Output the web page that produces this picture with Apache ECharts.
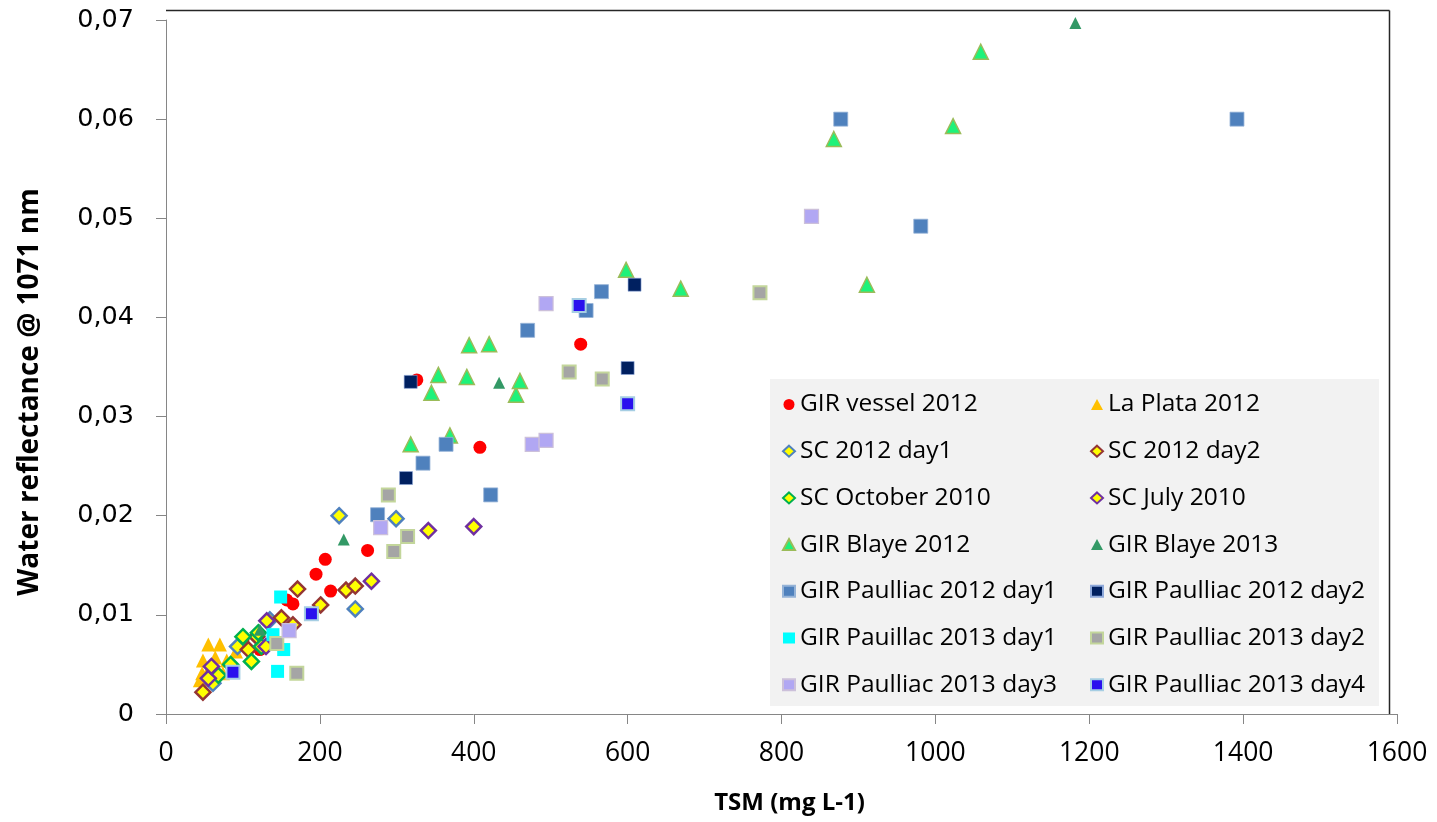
<!DOCTYPE html>
<html>
<head>
<meta charset="utf-8">
<script src="https://cdn.jsdelivr.net/npm/echarts@6/dist/echarts.min.js"></script>
<style>html,body{margin:0;padding:0;background:#fff;}#c{width:1437px;height:822px;}</style>
</head>
<body>
<div id="c"></div>
<script>
// ---- data (TSM mg/L, water reflectance @1071 nm) ----
const seriesNames = ["GIR vessel 2012","La Plata 2012","SC 2012 day1","SC 2012 day2","SC October 2010","SC July 2010","GIR Blaye 2012","GIR Blaye 2013","GIR Paulliac 2012 day1","GIR Paulliac 2012 day2","GIR Pauillac 2013 day1","GIR Paulliac 2013 day2","GIR Paulliac 2013 day3","GIR Paulliac 2013 day4"];
const girVessel2012 = [[100,0.0075],[122,0.0065],[157,0.0115],[165,0.0111],[195,0.0141],[207,0.0156],[214,0.0124],[262,0.0165],[326,0.0337],[408,0.0269],[539,0.0373]];
const laPlata2012 = [[44,0.0034],[47,0.0041],[48,0.0054],[55,0.0070],[57,0.0047],[64,0.0057],[70,0.0070],[74,0.0041],[79,0.0054],[86,0.0044],[91,0.0063]];
const sc2012day1 = [[61,0.0031],[93,0.0068],[135,0.0095],[225,0.0200],[246,0.0106],[299,0.0197]];
const sc2012day2 = [[48,0.0022],[107,0.0065],[118,0.0078],[150,0.0097],[165,0.0090],[171,0.0126],[201,0.0110],[234,0.0125],[246,0.0129]];
const scOct2010 = [[68,0.0039],[84,0.0050],[100,0.0078],[111,0.0053],[120,0.0082],[124,0.0068]];
const scJul2010 = [[55,0.0036],[59,0.0048],[130,0.0068],[131,0.0094],[267,0.0134],[341,0.0185],[400,0.0189]];
const girBlaye2012 = [[318,0.0272],[345,0.0324],[354,0.0342],[369,0.0281],[391,0.0340],[394,0.0372],[420,0.0373],[455,0.0322],[460,0.0336],[598,0.0448],[669,0.0429],[868,0.0580],[911,0.0433],[1023,0.0593],[1059,0.0668]];
const girBlaye2013 = [[122,0.0085],[231,0.0176],[433,0.0334],[1182,0.0697]];
const paulliac2012d1 = [[275,0.0201],[334,0.0253],[364,0.0272],[422,0.0221],[470,0.0387],[546,0.0407],[566,0.0426],[877,0.0600],[981,0.0492],[1392,0.0600]];
const paulliac2012d2 = [[312,0.0238],[318,0.0335],[600,0.0349],[609,0.0433]];
const pauillac2013d1 = [[139,0.0080],[145,0.0043],[149,0.0118],[153,0.0065]];
const paulliac2013d2 = [[144,0.0071],[170,0.0041],[289,0.0221],[296,0.0164],[314,0.0179],[524,0.0345],[567,0.0338],[772,0.0425]];
const paulliac2013d3 = [[160,0.0084],[279,0.0188],[476,0.0272],[494,0.0276],[494,0.0414],[839,0.0502]];
const paulliac2013d4 = [[87,0.0042],[189,0.0101],[537,0.0412],[600,0.0313]];
const xTicks = [0,200,400,600,800,1000,1200,1400,1600];
const yTicks = [0,0.01,0.02,0.03,0.04,0.05,0.06,0.07];

const allData = [girVessel2012,laPlata2012,sc2012day1,sc2012day2,scOct2010,scJul2010,girBlaye2012,girBlaye2013,paulliac2012d1,paulliac2012d2,pauillac2013d1,paulliac2013d2,paulliac2013d3,paulliac2013d4];

// ---- styles ----
const styles = [
  {symbol:'circle', size:13, color:'#FF0000'},
  {symbol:'triangle', size:14, color:'#FFC000'},
  {symbol:'diamond', size:15, color:'#FFFF00', border:'#4F81BD', bw:2.5},
  {symbol:'diamond', size:15, color:'#FFFF00', border:'#943634', bw:2.5},
  {symbol:'diamond', size:15, color:'#FFFF00', border:'#00B050', bw:2.5},
  {symbol:'diamond', size:15, color:'#FFFF00', border:'#7030A0', bw:2.5},
  {symbol:'triangle', size:15, color:'#1EF27A', border:'#9BBB59', bw:1.5},
  {symbol:'triangle', size:12, color:'#339966'},
  {symbol:'rect', size:14, color:'#4F81BD', border:'#95B3D7', bw:0.8},
  {symbol:'rect', size:13, color:'#002060', border:'#8EA9DB', bw:0.6},
  {symbol:'rect', size:13, color:'#00FFFF'},
  {symbol:'rect', size:13, color:'#A5A5A5', border:'#C3D69B', bw:2},
  {symbol:'rect', size:14, color:'#B1A7F3', border:'#CCC0DA', bw:1.2},
  {symbol:'rect', size:13, color:'#2A10EE', border:'#A6CEE3', bw:2}
];

const series = seriesNames.map((n,i)=>({
  name:n, type:'scatter', data: allData[i],
  symbol: styles[i].symbol, symbolSize: styles[i].size,
  itemStyle:{color:styles[i].color, borderColor:styles[i].border||styles[i].color, borderWidth:styles[i].bw||0, opacity:1},
  emphasis:{disabled:true},
  z: 2
}));

const legendText = {fontFamily:'Open Sans', fontSize:24.5, color:'#000', lineHeight:24};
const legendCommon = {orient:'vertical', top:392, itemWidth:12, itemHeight:11, itemGap:21.7,
  textStyle:legendText, selectedMode:false, z:5, padding:0};
const chart = echarts.init(document.getElementById('c'), null, {renderer:'canvas'});
chart.setOption({
  animation:false,
  backgroundColor:'#fff',
  grid:{left:166, right:40, top:20, bottom:108, containLabel:false},
  xAxis:{
    type:'value', min:0, max:1600, interval:200,
    name:'TSM (mg L-1)', nameLocation:'middle', nameGap:77,
    nameTextStyle:{fontFamily:'Open Sans', fontWeight:'bold', fontSize:24, color:'#000', padding:[0,0,0,16]},
    axisLine:{show:true, onZero:false, lineStyle:{color:'#868686', width:1}},
    axisTick:{show:true, length:10, lineStyle:{color:'#868686'}},
    axisLabel:{fontFamily:'Open Sans', fontSize:26.5, color:'#000', margin:26,
      formatter:v=>String(v)},
    splitLine:{show:false}
  },
  yAxis:{
    type:'value', min:0, max:0.07, interval:0.01,
    name:'Water reflectance @ 1071 nm', nameLocation:'middle', nameGap:122, nameRotate:90,
    nameTextStyle:{fontFamily:'Open Sans', fontWeight:'bold', fontSize:28, color:'#000', padding:[0,50,0,0]},
    axisLine:{show:true, onZero:false, lineStyle:{color:'#868686', width:1}},
    axisTick:{show:true, length:10, lineStyle:{color:'#868686'}},
    axisLabel:{fontFamily:'DejaVu Sans', fontSize:25.5, color:'#000', margin:32,
      formatter:v=> v===0 ? '0' : v.toFixed(2).replace('.',',')},
    splitLine:{show:false}
  },
  graphic:[
    {type:'rect', shape:{x:770, y:379, width:609, height:327}, style:{fill:'#F2F2F2'}, z:0, silent:true},
    {type:'line', shape:{x1:166, y1:10.5, x2:1389.5, y2:10.5}, style:{stroke:'#262626', lineWidth:1.5}, z:0, silent:true},
    {type:'line', shape:{x1:1389.5, y1:10.5, x2:1389.5, y2:714}, style:{stroke:'#262626', lineWidth:1.5}, z:0, silent:true}
  ],
  legend:[
    Object.assign({data:seriesNames.filter((_,i)=>i%2===0), left:782}, legendCommon),
    Object.assign({data:seriesNames.filter((_,i)=>i%2===1), left:1090}, legendCommon)
  ],
  series: series
});
</script>
</body>
</html>
